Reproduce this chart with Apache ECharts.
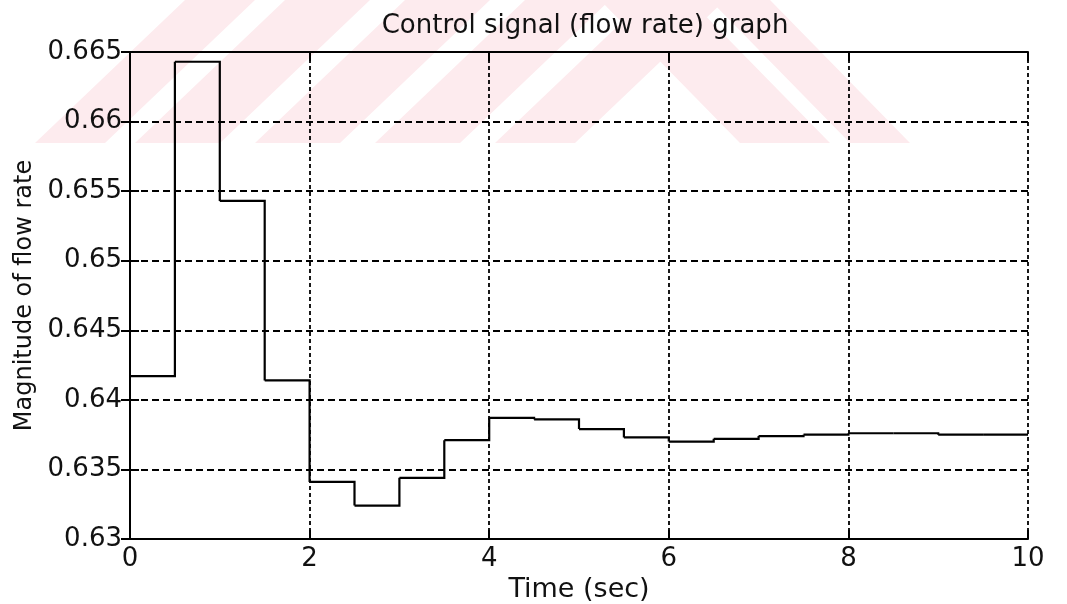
<!DOCTYPE html>
<html>
<head>
<meta charset="utf-8">
<script src="https://cdn.jsdelivr.net/npm/echarts@6/dist/echarts.min.js"></script>
<style>html,body{margin:0;padding:0;background:#fff}#c{width:1067px;height:604px}</style>
</head>
<body>
<div id="c"></div>
<script>
// Sample times (s) and zero-order-hold flow-rate values (last value repeated to close the step)
var timeSec = [0, 0.5, 1, 1.5, 2, 2.5, 3, 3.5, 4, 4.5, 5, 5.5, 6, 6.5, 7, 7.5, 8, 8.5, 9, 9.5, 10];
var flowRate = [0.6417, 0.6643, 0.6543, 0.6414, 0.6341, 0.6324, 0.6344, 0.6371, 0.6387, 0.6386,
                0.6379, 0.6373, 0.6370, 0.6372, 0.6374, 0.6375, 0.6376, 0.6376, 0.6375, 0.6375, 0.6375];
var xTicks = [0, 2, 4, 6, 8, 10];
var yTicks = ['0.63', '0.635', '0.64', '0.645', '0.65', '0.655', '0.66', '0.665'];

var FONT = 'DejaVu Sans';
var pink = '#fdebee';

function stripe(pts) {
  return { type: 'polygon', z: -10, silent: true, shape: { points: pts }, style: { fill: pink } };
}
var wm = [];
// watermark: "/" stripes
[[35,105],[135,220],[255,340],[375,460],[495,575]].forEach(function (s) {
  wm.push(stripe([[s[0],143],[s[1],143],[s[1]+150,0],[s[0]+150,0]]));
});
// watermark: "\" stripes
[[600,690],[710,770]].forEach(function (s) {
  wm.push(stripe([[s[0],0],[s[1],0],[s[1]+140,143],[s[0]+140,143]]));
});

// each step: [t_i, y_i, t_{i+1}, y_{i+1}]
var steps = [];
for (var i = 0; i < timeSec.length - 1; i++) {
  steps.push([timeSec[i], flowRate[i], timeSec[i + 1], flowRate[i + 1]]);
}

var chart = echarts.init(document.getElementById('c'));
chart.setOption({
  animation: false,
  backgroundColor: 'transparent',
  graphic: wm,
  title: {
    text: 'Control signal (flow rate) graph',
    left: 580, textAlign: 'center', top: 8,
    textStyle: { fontFamily: FONT, fontSize: 26, fontWeight: 'normal', color: '#111' }
  },
  grid: { left: 130, right: 39, top: 52, bottom: 65, show: false, containLabel: false, outerBoundsMode: 'none' },
  xAxis: [{
    type: 'value', min: 0, max: 10, interval: 2,
    name: 'Time (sec)', nameLocation: 'middle', nameGap: 35,
    nameTextStyle: { fontFamily: FONT, fontSize: 27, color: '#111' },
    axisLine: { show: true, onZero: false, lineStyle: { color: '#000', width: 2 } },
    axisTick: { show: true, inside: true, length: 9, lineStyle: { color: '#000', width: 2 } },
    axisLabel: { fontFamily: FONT, fontSize: 26, color: '#111', margin: 7,
      formatter: function (v) { return xTicks.indexOf(v) >= 0 ? String(v) : ''; } },
    splitLine: { show: true, lineStyle: { color: '#000', width: 1.8, type: [4, 3] } }
  }, {
    type: 'value', min: 0, max: 10, interval: 2, position: 'top',
    axisLine: { show: true, lineStyle: { color: '#000', width: 2 } },
    axisTick: { show: true, inside: true, length: 9, lineStyle: { color: '#000', width: 2 } },
    axisLabel: { show: false }, splitLine: { show: false }
  }],
  yAxis: [{
    type: 'value', min: 0.63, max: 0.665, interval: 0.005,
    name: 'Magnitude of flow rate', nameLocation: 'middle', nameGap: 89,
    nameTextStyle: { fontFamily: FONT, fontSize: 24, color: '#111' },
    axisLine: { show: true, onZero: false, lineStyle: { color: '#000', width: 2 } },
    axisTick: { show: true, inside: true, length: 9, lineStyle: { color: '#000', width: 2 } },
    axisLabel: { fontFamily: FONT, fontSize: 26, color: '#111', margin: 8,
      formatter: function (v) {
        var s = String(+v.toFixed(3));
        return yTicks.indexOf(s) >= 0 ? s : '';
      } },
    splitLine: { show: true, lineStyle: { color: '#000', width: 1.8, type: [7, 4] } }
  }, {
    type: 'value', min: 0.63, max: 0.665, interval: 0.005, position: 'right',
    axisLine: { show: true, lineStyle: { color: '#000', width: 2 } },
    axisTick: { show: true, inside: true, length: 9, lineStyle: { color: '#000', width: 2 } },
    axisLabel: { show: false }, splitLine: { show: false }
  }],
  series: [{
    type: 'custom', data: steps, z: 5, clip: false,
    encode: { x: [0, 2], y: [1, 3] },
    renderItem: function (params, api) {
      var p0 = api.coord([api.value(0), api.value(1)]);
      var p1 = api.coord([api.value(2), api.value(1)]);
      var p2 = api.coord([api.value(2), api.value(3)]);
      return {
        type: 'polyline',
        shape: { points: [p0, p1, p2] },
        style: { stroke: '#000', lineWidth: 2.2, fill: null, lineJoin: 'miter' }
      };
    }
  }]
});
</script>
</body>
</html>
